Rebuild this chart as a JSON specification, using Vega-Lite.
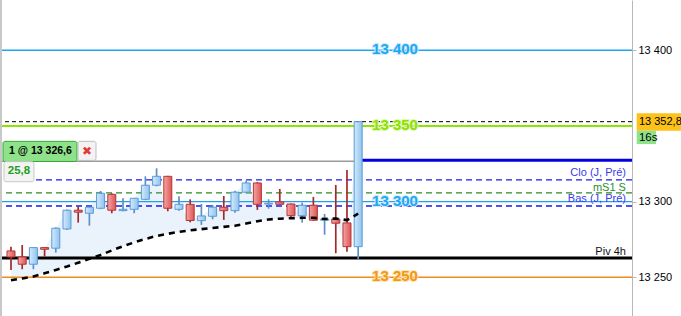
{
  "$schema": "https://vega.github.io/schema/vega-lite/v6.json",
  "width": 632,
  "height": 316,
  "padding": {"left": 0, "top": 0, "right": 49, "bottom": 0},
  "autosize": {"type": "none"},
  "background": "white",
  "config": {"view": {"stroke": null}, "font": "Liberation Sans"},
  "datasets": {
    "candles": [
      {"idx": 0, "o": 13267.4, "h": 13270.2, "l": 13254.8, "c": 13263.4, "ma": 13248.0},
      {"idx": 1, "o": 13263.4, "h": 13271.3, "l": 13255.3, "c": 13258.6, "ma": 13249.2},
      {"idx": 2, "o": 13258.6, "h": 13269.6, "l": 13255.3, "c": 13269.6, "ma": 13250.5},
      {"idx": 3, "o": 13269.6, "h": 13269.8, "l": 13263.6, "c": 13268.5, "ma": 13252.6},
      {"idx": 4, "o": 13269.2, "h": 13283.0, "l": 13266.3, "c": 13282.4, "ma": 13254.8},
      {"idx": 5, "o": 13281.9, "h": 13294.7, "l": 13281.3, "c": 13294.3, "ma": 13257.1},
      {"idx": 6, "o": 13294.3, "h": 13296.7, "l": 13286.1, "c": 13293.0, "ma": 13259.6},
      {"idx": 7, "o": 13292.3, "h": 13296.5, "l": 13284.1, "c": 13296.3, "ma": 13262.2},
      {"idx": 8, "o": 13295.6, "h": 13307.0, "l": 13295.0, "c": 13305.5, "ma": 13264.7},
      {"idx": 9, "o": 13304.8, "h": 13305.5, "l": 13292.3, "c": 13294.3, "ma": 13267.7},
      {"idx": 10, "o": 13294.0, "h": 13302.2, "l": 13293.6, "c": 13294.9, "ma": 13270.5},
      {"idx": 11, "o": 13294.9, "h": 13302.4, "l": 13292.3, "c": 13302.2, "ma": 13273.0},
      {"idx": 12, "o": 13301.5, "h": 13316.7, "l": 13301.0, "c": 13310.8, "ma": 13275.3},
      {"idx": 13, "o": 13310.8, "h": 13322.0, "l": 13310.1, "c": 13316.7, "ma": 13277.3},
      {"idx": 14, "o": 13316.7, "h": 13317.0, "l": 13293.6, "c": 13295.6, "ma": 13278.7},
      {"idx": 15, "o": 13294.9, "h": 13303.5, "l": 13294.0, "c": 13298.2, "ma": 13280.0},
      {"idx": 16, "o": 13298.2, "h": 13301.5, "l": 13286.3, "c": 13287.5, "ma": 13281.0},
      {"idx": 17, "o": 13287.4, "h": 13298.4, "l": 13284.6, "c": 13290.5, "ma": 13281.8},
      {"idx": 18, "o": 13290.3, "h": 13297.8, "l": 13288.3, "c": 13296.3, "ma": 13282.6},
      {"idx": 19, "o": 13296.3, "h": 13303.7, "l": 13287.9, "c": 13294.0, "ma": 13283.3},
      {"idx": 20, "o": 13294.0, "h": 13307.2, "l": 13292.7, "c": 13306.2, "ma": 13284.0},
      {"idx": 21, "o": 13306.2, "h": 13313.8, "l": 13305.5, "c": 13312.3, "ma": 13285.5},
      {"idx": 22, "o": 13312.3, "h": 13313.0, "l": 13294.5, "c": 13298.2, "ma": 13287.0},
      {"idx": 23, "o": 13298.4, "h": 13301.5, "l": 13295.3, "c": 13298.9, "ma": 13288.2},
      {"idx": 24, "o": 13299.8, "h": 13308.3, "l": 13297.8, "c": 13298.2, "ma": 13288.7},
      {"idx": 25, "o": 13298.4, "h": 13298.8, "l": 13289.0, "c": 13290.7, "ma": 13289.0},
      {"idx": 26, "o": 13290.7, "h": 13299.3, "l": 13286.1, "c": 13297.6, "ma": 13289.3},
      {"idx": 27, "o": 13297.6, "h": 13303.1, "l": 13287.2, "c": 13287.7, "ma": 13289.3},
      {"idx": 28, "o": 13287.7, "h": 13291.8, "l": 13278.1, "c": 13288.5, "ma": 13288.5},
      {"idx": 29, "o": 13288.5, "h": 13311.0, "l": 13265.9, "c": 13285.7, "ma": 13288.8},
      {"idx": 30, "o": 13285.9, "h": 13320.9, "l": 13266.9, "c": 13270.2, "ma": 13287.8},
      {"idx": 31, "o": 13270.2, "h": 13352.8, "l": 13261.9, "c": 13352.8, "ma": 13292.0}
    ]
  },
  "data": {"name": "candles"},
  "layer": [
    {
      "mark": {"type": "area", "color": "#eaf3fc"},
      "encoding": {
        "x": {"field": "idx", "type": "quantitative", "scale": {"domain": [-0.982, 55.45], "nice": false, "zero": false, "padding": 0}, "axis": null},
        "y": {"field": "ma", "type": "quantitative", "title": null, "scale": {"domain": [13224.4, 13433.2], "nice": false, "zero": false}, "axis": {"orient": "right", "values": [13250, 13300, 13400], "labelExpr": "replace(format(datum.value, ','), ',', ' ')", "grid": false, "title": null, "domainColor": "#b8b8b8", "tickColor": "#b8b8b8", "tickSize": 4, "labelPadding": 2, "labelFontSize": 11, "labelColor": "#000000", "labelFont": "Liberation Sans"}},
        "y2": {"field": "c"}
      }
    },
    {
      "data": {"values": [{}]},
      "layer": [
        {"mark": {"type": "rule", "color": "#18a8f2", "strokeWidth": 1.3}, "encoding": {"y": {"datum": 13400}}},
        {"mark": {"type": "rule", "color": "#8ae800", "strokeWidth": 2}, "encoding": {"y": {"datum": 13350}}},
        {"mark": {"type": "rule", "color": "#000000", "strokeWidth": 1, "strokeDash": [4, 3]}, "encoding": {"y": {"datum": 13352.8}}},
        {"mark": {"type": "rule", "color": "#1a1aee", "strokeWidth": 1.3, "strokeDash": [6, 4]}, "encoding": {"y": {"datum": 13314.3}}},
        {"mark": {"type": "rule", "color": "#2a8a2a", "strokeWidth": 1.3, "strokeDash": [6, 4]}, "encoding": {"y": {"datum": 13305.7}}},
        {"mark": {"type": "rule", "color": "#209ff0", "strokeWidth": 1.3}, "encoding": {"y": {"datum": 13300}}},
        {"mark": {"type": "rule", "color": "#1a1aee", "strokeWidth": 1.3, "strokeDash": [6, 4]}, "encoding": {"y": {"datum": 13297.1}}},
        {"mark": {"type": "rule", "color": "#000000", "strokeWidth": 3}, "encoding": {"y": {"datum": 13262.7}}},
        {"mark": {"type": "rule", "color": "#f08a1a", "strokeWidth": 1.5}, "encoding": {"y": {"datum": 13250}}},
        {"mark": {"type": "rule", "color": "#9a9a9a", "strokeWidth": 1.5}, "encoding": {"x": {"datum": -0.982}, "x2": {"datum": 30.89}, "y": {"datum": 13326.6}}},
        {"mark": {"type": "rule", "color": "#0000e0", "strokeWidth": 3}, "encoding": {"x": {"datum": 30.89}, "x2": {"datum": 55.45}, "y": {"datum": 13327.3}}},
        {"mark": {"type": "rule", "color": "#c8c8c8", "strokeWidth": 2}, "encoding": {"x": {"datum": -0.89}}}
      ]
    },
    {
      "mark": {"type": "rule", "strokeWidth": 1.7},
      "encoding": {
        "x": {"field": "idx", "type": "quantitative"},
        "y": {"field": "l", "type": "quantitative", "title": null},
        "y2": {"field": "h"},
        "color": {"condition": {"test": "datum.c >= datum.o", "value": "#5b8fc9"}, "value": "#a32a2a"}
      }
    },
    {
      "transform": [{"filter": "datum.c >= datum.o"}],
      "mark": {"type": "bar", "width": 8, "stroke": "#5b9bd5", "strokeWidth": 1, "fill": {"gradient": "linear", "x1": 0, "y1": 0, "x2": 1, "y2": 0, "stops": [{"offset": 0, "color": "#d4eafc"}, {"offset": 1, "color": "#8fc3ee"}]}},
      "encoding": {
        "x": {"field": "idx", "type": "quantitative"},
        "y": {"field": "o", "type": "quantitative", "title": null},
        "y2": {"field": "c"}
      }
    },
    {
      "transform": [{"filter": "datum.c < datum.o"}],
      "mark": {"type": "bar", "width": 8, "stroke": "#b53535", "strokeWidth": 1, "fill": {"gradient": "linear", "x1": 0, "y1": 0, "x2": 1, "y2": 0, "stops": [{"offset": 0, "color": "#f5a5a5"}, {"offset": 1, "color": "#dd5555"}]}},
      "encoding": {
        "x": {"field": "idx", "type": "quantitative"},
        "y": {"field": "o", "type": "quantitative", "title": null},
        "y2": {"field": "c"}
      }
    },
    {
      "mark": {"type": "line", "color": "#000000", "strokeWidth": 2.6, "strokeDash": [6, 5]},
      "encoding": {
        "x": {"field": "idx", "type": "quantitative"},
        "y": {"field": "ma", "type": "quantitative", "title": null}
      }
    },
    {
      "data": {"values": [{}]},
      "layer": [
        {"mark": {"type": "text", "text": "13 400", "fontSize": 15, "fontWeight": "bold", "fill": null, "stroke": "#cdeaff", "strokeWidth": 2, "baseline": "middle", "dy": -1}, "encoding": {"x": {"datum": 34.29}, "y": {"datum": 13400}}},
        {"mark": {"type": "text", "text": "13 400", "fontSize": 15, "fontWeight": "bold", "color": "#1ea7f2", "baseline": "middle", "dy": -1}, "encoding": {"x": {"datum": 34.29}, "y": {"datum": 13400}}},
        {"mark": {"type": "text", "text": "13 350", "fontSize": 15, "fontWeight": "bold", "fill": null, "stroke": "#e2f7bf", "strokeWidth": 2, "baseline": "middle", "dy": -1}, "encoding": {"x": {"datum": 34.29}, "y": {"datum": 13350}}},
        {"mark": {"type": "text", "text": "13 350", "fontSize": 15, "fontWeight": "bold", "color": "#8ee000", "baseline": "middle", "dy": -1}, "encoding": {"x": {"datum": 34.29}, "y": {"datum": 13350}}},
        {"mark": {"type": "text", "text": "13 300", "fontSize": 15, "fontWeight": "bold", "fill": null, "stroke": "#cdeaff", "strokeWidth": 2, "baseline": "middle", "dy": -1}, "encoding": {"x": {"datum": 34.29}, "y": {"datum": 13300}}},
        {"mark": {"type": "text", "text": "13 300", "fontSize": 15, "fontWeight": "bold", "color": "#1ea7f2", "baseline": "middle", "dy": -1}, "encoding": {"x": {"datum": 34.29}, "y": {"datum": 13300}}},
        {"mark": {"type": "text", "text": "13 250", "fontSize": 15, "fontWeight": "bold", "fill": null, "stroke": "#ffe3bd", "strokeWidth": 2, "baseline": "middle", "dy": -1}, "encoding": {"x": {"datum": 34.29}, "y": {"datum": 13250}}},
        {"mark": {"type": "text", "text": "13 250", "fontSize": 15, "fontWeight": "bold", "color": "#f29a10", "baseline": "middle", "dy": -1}, "encoding": {"x": {"datum": 34.29}, "y": {"datum": 13250}}},
        {"mark": {"type": "text", "text": "Clo (J, Pré)", "fontSize": 11, "color": "#3a3af0", "align": "right", "baseline": "alphabetic"}, "encoding": {"x": {"datum": 54.91}, "y": {"datum": 13316.6}}},
        {"mark": {"type": "text", "text": "mS1 S", "fontSize": 11, "color": "#2a8f2a", "align": "right", "baseline": "alphabetic"}, "encoding": {"x": {"datum": 54.91}, "y": {"datum": 13307.3}}},
        {"mark": {"type": "text", "text": "Bas (J, Pré)", "fontSize": 11, "color": "#3a3af0", "align": "right", "baseline": "alphabetic"}, "encoding": {"x": {"datum": 54.91}, "y": {"datum": 13299.7}}},
        {"mark": {"type": "text", "text": "Piv 4h", "fontSize": 11, "color": "#111111", "align": "right", "baseline": "alphabetic"}, "encoding": {"x": {"datum": 54.91}, "y": {"datum": 13264.7}}},
        {"mark": {"type": "rect", "fill": "#8ee28a", "stroke": "#3aa83a", "strokeWidth": 1, "cornerRadius": 2}, "encoding": {"x": {"datum": -0.714}, "x2": {"datum": 5.893}, "y": {"datum": 13339.8}, "y2": {"datum": 13326.5}}},
        {"mark": {"type": "text", "text": "1 @ 13 326,6", "fontSize": 10.5, "fontWeight": "bold", "color": "#000000", "baseline": "middle"}, "encoding": {"x": {"datum": 2.63}, "y": {"datum": 13333.1}}},
        {"mark": {"type": "rect", "fill": "#f3f3f3", "stroke": "#bdbdbd", "strokeWidth": 1, "cornerRadius": 2}, "encoding": {"x": {"datum": 5.98}, "x2": {"datum": 7.59}, "y": {"datum": 13339.8}, "y2": {"datum": 13327.2}}},
        {"mark": {"type": "text", "text": "✖", "font": "DejaVu Sans", "fontSize": 12, "color": "#e03a3a", "baseline": "middle"}, "encoding": {"x": {"datum": 6.79}, "y": {"datum": 13333.4}}},
        {"mark": {"type": "rect", "fill": "#f3f3f3", "stroke": "#c8c8c8", "strokeWidth": 1, "cornerRadius": 2}, "encoding": {"x": {"datum": -0.625}, "x2": {"datum": 2.05}, "y": {"datum": 13326.4}, "y2": {"datum": 13313.1}}},
        {"mark": {"type": "text", "text": "25,8", "fontSize": 11.5, "fontWeight": "bold", "color": "#1e9e1e", "baseline": "middle"}, "encoding": {"x": {"datum": 0.714}, "y": {"datum": 13319.9}}},
        {"mark": {"type": "rect", "fill": "#fcc21a"}, "encoding": {"x": {"datum": 55.87}, "x2": {"datum": 59.82}, "y": {"datum": 13358.3}, "y2": {"datum": 13346.8}}},
        {"mark": {"type": "text", "text": "13 352,8", "fontSize": 11, "color": "#000000", "align": "left", "baseline": "middle"}, "encoding": {"x": {"datum": 56.07}, "y": {"datum": 13352.6}}},
        {"mark": {"type": "rect", "fill": "#8ee28a"}, "encoding": {"x": {"datum": 55.87}, "x2": {"datum": 57.59}, "y": {"datum": 13346.8}, "y2": {"datum": 13338.0}}},
        {"mark": {"type": "text", "text": "16s", "fontSize": 11.5, "color": "#000000", "align": "left", "baseline": "middle"}, "encoding": {"x": {"datum": 56.07}, "y": {"datum": 13342.3}}}
      ]
    }
  ]
}
